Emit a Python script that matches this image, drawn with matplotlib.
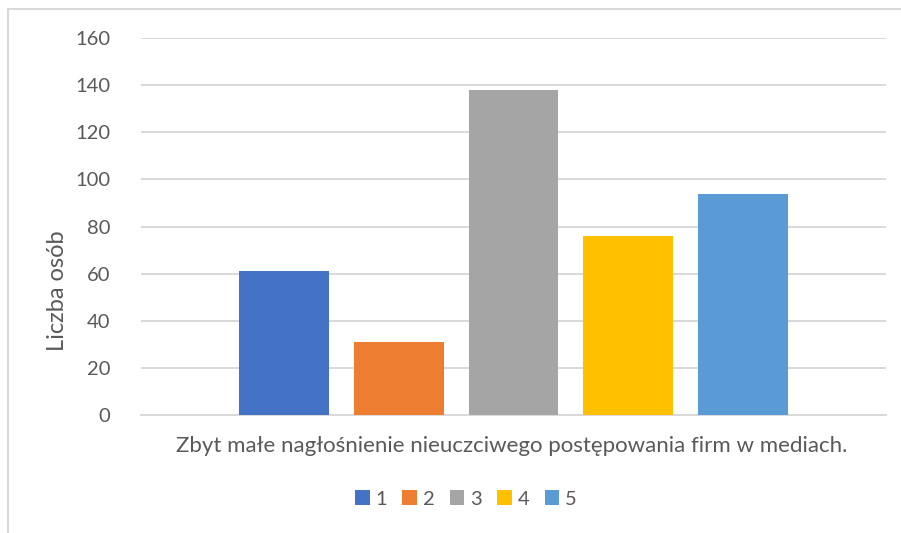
import matplotlib
matplotlib.use("Agg")
import matplotlib.pyplot as plt
from matplotlib.lines import Line2D
from matplotlib.patches import Patch

# Data
category = "Zbyt małe nagłośnienie nieuczciwego postępowania firm w mediach."
series_names = ["1", "2", "3", "4", "5"]
values = [61, 31, 138, 76, 94]
colors = ["#4472C4", "#ED7D31", "#A5A5A5", "#FFC000", "#5B9BD5"]
y_ticks = [0, 20, 40, 60, 80, 100, 120, 140, 160]
y_label = "Liczba osób"

W, H = 901, 533
plt.rcParams["font.family"] = ["Lato", "DejaVu Sans"]
text_color = "#595959"
grid_color = "#D9D9D9"

fig = plt.figure(figsize=(W / 100, H / 100), dpi=100)
ax = fig.add_axes([141 / W, 118 / H, (886 - 141) / W, (415 - 38) / H])

step = 0.1537
width = 0.1208
n = len(values)
for i, (name, v, c) in enumerate(zip(series_names, values, colors)):
    ax.bar((i - (n - 1) / 2) * step, v, width=width, color=c, label=name, zorder=3)

ax.set_xlim(-0.5, 0.5)
ax.set_ylim(0, 160)
ax.set_yticks(y_ticks)
ax.set_yticklabels([str(t) for t in y_ticks], fontsize=14.5, color=text_color)
ax.set_xticks([])
ax.tick_params(axis="y", length=0, pad=22)
ax.grid(axis="y", color=grid_color, linewidth=1.4, zorder=0)
for s in ["left", "right", "top"]:
    ax.spines[s].set_visible(False)
ax.spines["bottom"].set_color(grid_color)
ax.spines["bottom"].set_linewidth(1.4)

# Axis titles
fig.text(512 / W, 1 - 446 / H, category, fontsize=16, color=text_color,
         ha="center", va="center")
fig.text(58 / W, 1 - 291 / H, y_label, fontsize=17, color=text_color,
         ha="center", va="center", rotation=90)

handles = [Patch(facecolor=c, edgecolor="none") for c in colors]
fig.legend(handles, series_names, loc="center", bbox_to_anchor=(466 / W, 1 - 499 / H),
           ncol=n, frameon=False, fontsize=14.5, labelcolor=text_color,
           handlelength=0.72, handleheight=0.72, handletextpad=0.3, columnspacing=0.75)

# Chart area frame
frame_kw = dict(color=grid_color, linewidth=1.5, transform=fig.transFigure)
fig.add_artist(Line2D([8 / W, 1.0], [1 - 9 / H, 1 - 9 / H], **frame_kw))
fig.add_artist(Line2D([8 / W, 8 / W], [0.0, 1 - 9 / H], **frame_kw))

fig.savefig("out.png", dpi=100)
